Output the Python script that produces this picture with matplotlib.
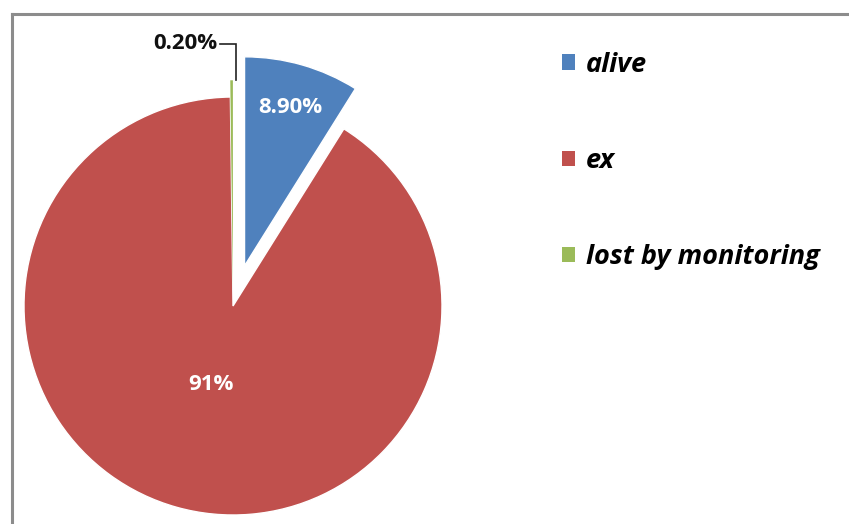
import numpy as np
import matplotlib.pyplot as plt
from matplotlib.lines import Line2D

labels = ['alive', 'ex', 'lost by monitoring']
values = [8.9, 90.9, 0.2]
pct_text = ['8.90%', '91%', '0.20%']
colors = ['#4F81BD', '#C0504D', '#9BBB59']
explode = [0.2, 0.0, 0.08]

plt.rcParams['font.family'] = ['Open Sans', 'DejaVu Sans']

W, H = 849, 524
fig = plt.figure(figsize=(W / 100, H / 100), dpi=100)
ax = fig.add_axes([0, 0, 1, 1])

# pie centre and radius in pixels
cx, cy, r = 233, 306, 209

wedges, _ = ax.pie(values, colors=colors, explode=explode, startangle=90,
                   counterclock=False,
                   wedgeprops=dict(edgecolor='white', linewidth=1.0))
wedges[2].set_linewidth(0)

ax.set_aspect('auto')
ax.set_xlim(-cx / r, (W - cx) / r)
ax.set_ylim(-(H - cy) / r, cy / r)
ax.axis('off')

# percentage labels inside the two big slices
label_dist = [0.79, 0.39]
for i, d in enumerate(label_dist):
    w = wedges[i]
    mid = np.deg2rad((w.theta1 + w.theta2) / 2)
    ox, oy = w.center
    ax.text(ox + d * np.cos(mid), oy + d * np.sin(mid), pct_text[i],
            color='white', fontsize=16, fontweight='bold',
            ha='center', va='center')

# small slice label with leader line
w = wedges[2]
mid = np.deg2rad((w.theta1 + w.theta2) / 2)
tip = (w.center[0] + w.r * np.cos(mid), w.center[1] + w.r * np.sin(mid))
ax.plot([-0.062, tip[0] + 0.02, tip[0] + 0.02], [1.254, 1.254, tip[1]],
        color='#222222', lw=1.2, solid_joinstyle='miter')
ax.text(-0.075, 1.254, pct_text[2], color='#111111', fontsize=16,
        fontweight='bold', ha='right', va='center')

# legend
leg = fig.legend(wedges, labels, loc='upper left',
                 bbox_to_anchor=(548 / W, 1 - 38 / H), frameon=False,
                 borderpad=0, labelspacing=2.6, handlelength=0.5,
                 handleheight=0.5, handletextpad=0.4,
                 prop=dict(size=19.5, weight='bold', style='italic'))
for h in leg.legend_handles:
    h.set_edgecolor('none')

# chart area border (top and left visible)
fig.add_artist(Line2D([12 / W, 1], [1 - 14 / H, 1 - 14 / H],
                      transform=fig.transFigure, color='#8c8c8c', lw=2.2))
fig.add_artist(Line2D([12 / W, 12 / W], [1 - 14 / H, 0],
                      transform=fig.transFigure, color='#8c8c8c', lw=2.2))

fig.savefig('out.png', dpi=100, facecolor='white')
